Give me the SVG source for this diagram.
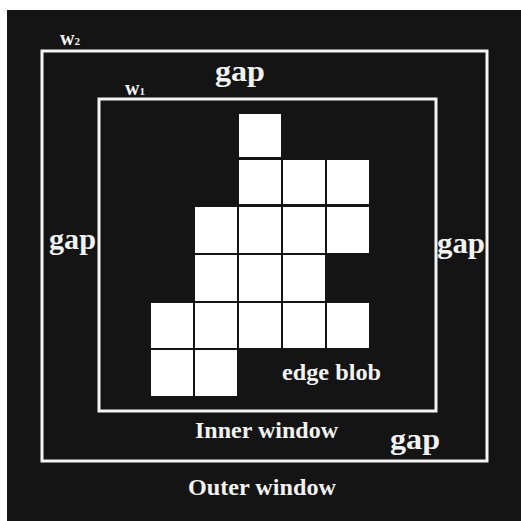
<svg xmlns="http://www.w3.org/2000/svg" width="521" height="521" viewBox="0 0 521 521">
<style>
.win{fill:none;stroke:#f4f4f4;stroke-width:3}
.cell{fill:#ffffff}
.t{font-family:"Liberation Serif",serif;font-weight:bold;fill:#f2f2f2}
</style>
<rect x="0" y="0" width="521" height="521" fill="#ffffff"/>
<rect x="7" y="10" width="514" height="511" fill="#141414"/>
<g id="outer-window"><rect class="win" x="42" y="51" width="445" height="410"/></g>
<g id="inner-window"><rect class="win" x="99" y="99" width="337" height="312"/></g>
<g id="edge-blob">
<rect class="cell" x="239" y="114" width="42" height="43"/>
<rect class="cell" x="239" y="160" width="42" height="44"/>
<rect class="cell" x="283" y="160" width="42" height="44"/>
<rect class="cell" x="327" y="160" width="42" height="44"/>
<rect class="cell" x="195" y="207" width="42" height="46"/>
<rect class="cell" x="239" y="207" width="42" height="46"/>
<rect class="cell" x="283" y="207" width="42" height="46"/>
<rect class="cell" x="327" y="207" width="42" height="46"/>
<rect class="cell" x="195" y="255" width="42" height="46"/>
<rect class="cell" x="239" y="255" width="42" height="46"/>
<rect class="cell" x="283" y="255" width="42" height="46"/>
<rect class="cell" x="151" y="303" width="42" height="45"/>
<rect class="cell" x="195" y="303" width="42" height="45"/>
<rect class="cell" x="239" y="303" width="42" height="45"/>
<rect class="cell" x="283" y="303" width="42" height="45"/>
<rect class="cell" x="327" y="303" width="42" height="45"/>
<rect class="cell" x="151" y="350" width="42" height="46"/>
<rect class="cell" x="195" y="350" width="42" height="46"/>
</g>
<g id="labels">
<text class="t" x="60" y="45" font-size="20">w<tspan font-size="11">2</tspan></text>
<text class="t" x="125" y="95" font-size="20">w<tspan font-size="11">1</tspan></text>
<text class="t" x="215" y="81" font-size="29" textLength="50" lengthAdjust="spacingAndGlyphs">gap</text>
<text class="t" x="49" y="249" font-size="30" textLength="47" lengthAdjust="spacingAndGlyphs">gap</text>
<text class="t" x="437" y="253" font-size="30" textLength="48" lengthAdjust="spacingAndGlyphs">gap</text>
<text class="t" x="282" y="380" font-size="23" textLength="99" lengthAdjust="spacingAndGlyphs">edge blob</text>
<text class="t" x="195" y="438" font-size="23" textLength="143" lengthAdjust="spacingAndGlyphs">Inner window</text>
<text class="t" x="390" y="449" font-size="30" textLength="50" lengthAdjust="spacingAndGlyphs">gap</text>
<text class="t" x="188" y="495" font-size="23" textLength="148" lengthAdjust="spacingAndGlyphs">Outer window</text>
</g>
</svg>
